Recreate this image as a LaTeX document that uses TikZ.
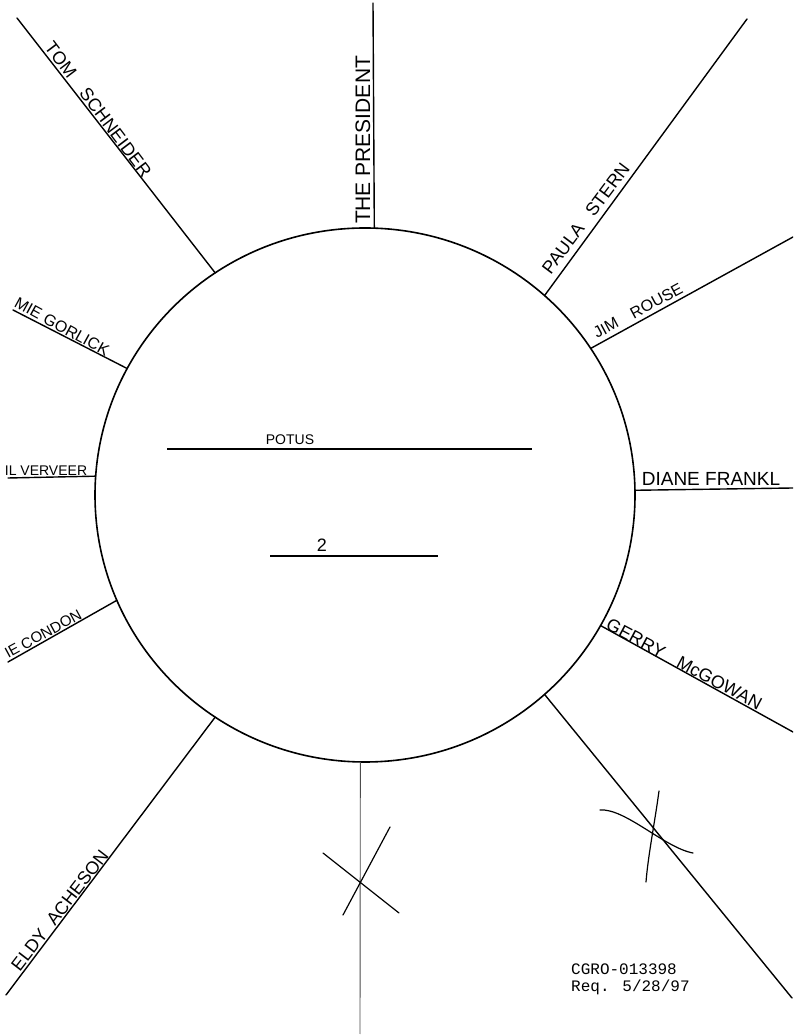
\documentclass[tikz,border=0pt]{standalone}
\usepackage{fontspec}
\setmainfont{Liberation Sans}
\newfontfamily\stampfont{Liberation Mono}
\usetikzlibrary{shapes.geometric}
\begin{document}
\begin{tikzpicture}[x=1pt,y=1pt,
  spoke/.style={line width=1.4pt, line cap=round},
  thinspoke/.style={line width=0.9pt, black!70},
  ring/.style={draw, ellipse, line width=1.6pt, minimum width=540pt, minimum height=534pt, inner sep=0pt, outer sep=0pt},
  lbl/.style={font=\fontsize{#1}{#1}\selectfont, inner sep=2.5pt, anchor=south},
  xline/.style={line width=1.2pt, line cap=round},
  stamp/.style={anchor=base west, inner sep=0pt, font=\stampfont\fontsize{16}{16}\selectfont}
]
\useasboundingbox (0,0) rectangle (793,1036);
\clip (0,0) rectangle (793,1036);
\fill[white] (0,0) rectangle (793,1036);

% circle
\node[ring] (c) at (365,541) {};

% outer ends of spokes
\coordinate (tom) at (17,1018);
\coordinate (pres) at (373,1033);
\coordinate (paula) at (747,1017);
\coordinate (jim) at (793,799);
\coordinate (diane) at (793,548);
\coordinate (gerry) at (793,304);
\coordinate (xr) at (792,38);
\coordinate (bot) at (360,2);
\coordinate (eldy) at (6,41);
\coordinate (condon) at (8,374);
\coordinate (verveer) at (8,558);
\coordinate (gorlick) at (13,726);

% spokes
\draw[spoke] (c.124.9) -- (tom);
\draw[spoke] (c.88.3) -- (pres);
\draw[spoke] (c.48.8) -- (paula);
\draw[spoke] (c.33.5) -- (jim);
\draw[spoke] (c.1.5) -- (diane);
\draw[spoke] (c.-29.7) -- (gerry);
\draw[spoke] (c.-48.6) -- (xr);
\draw[thinspoke] (c.-91.1) -- (bot);
\draw[spoke] (c.236.8) -- (eldy);
\draw[spoke] (c.203.6) -- (condon);
\draw[spoke] (c.176.4) -- (verveer);
\draw[spoke] (c.152.8) -- (gorlick);

% labels
\node[lbl=18, rotate=-52.9] (ltom) at (91,921) {TOM\hspace{1em}SCHNEIDER};
\node[lbl=21, rotate=90] (lpres) at (373,896) {THE PRESIDENT};
\node[lbl=18, rotate=53.1] (lpaula) at (593,812) {PAULA\hspace{0.8em}STERN};
\node[lbl=16, rotate=28.3] (ljim) at (642,718) {JIM\hspace{1em}ROUSE};
\node[lbl=19] (ldiane) at (711,548) {DIANE FRANKL};
\node[lbl=18, rotate=-28.1] (lgerry) at (680,364) {GERRY\hspace{0.9em}McGOWAN};
\node[lbl=18, rotate=52.4] (leldy) at (67,120) {ELDY\hspace{0.6em}ACHESON};
\node[lbl=15, rotate=28.5] (lcondon) at (47,395) {IE CONDON};
\node[lbl=14] (lverveer) at (46,558) {IL VERVEER};
\node[lbl=16, rotate=-28.7] (lgorlick) at (58,702) {MIE GORLICK};

% center text
\coordinate (p1) at (167,587);
\coordinate (p2) at (532,587);
\draw[line width=1.3pt] (p1) -- (p2);
\node[lbl=14] (potus) at (290,589) {POTUS};
\coordinate (q1) at (270,480);
\coordinate (q2) at (438,480);
\draw[line width=1.3pt] (q1) -- (q2);
\node[lbl=18] (two) at (322,482) {2};

% crosses
\draw[xline] (323,183) -- (399,123);
\draw[xline] (390,209) -- (343,121);
\draw[xline] (600,226) .. controls (625,228) and (665,188) .. (693,183);
\draw[xline] (659,245) .. controls (655,215) and (648,180) .. (646,154);

% stamp
\node[stamp] (s1) at (571,61) {CGRO-013398};
\node[stamp] (s2) at (571,44) {Req. 5/28/97};
\end{tikzpicture}
\end{document}
